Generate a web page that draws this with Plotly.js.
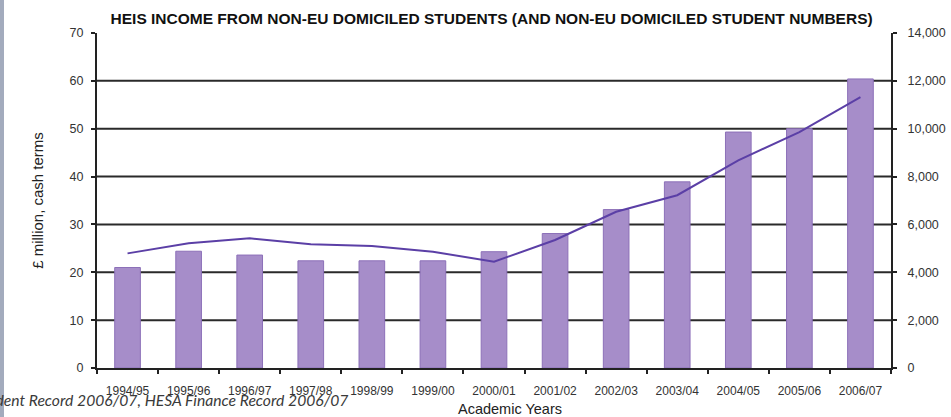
<!DOCTYPE html>
<html>
<head>
<meta charset="utf-8">
<script src="https://cdn.plot.ly/plotly-3.0.1.min.js"></script>
<style>html,body{margin:0;padding:0;background:#fff;}#chart{width:951px;height:417px;}</style>
</head>
<body>
<div id="chart"></div>
<script>
var years = ["1994/95","1995/96","1996/97","1997/98","1998/99","1999/00","2000/01","2001/02","2002/03","2003/04","2004/05","2005/06","2006/07"];
var incomeMillions = [21.0, 24.4, 23.6, 22.4, 22.4, 22.4, 24.3, 28.1, 33.1, 38.9, 49.3, 50.0, 60.4];
var studentNumbers = [4790, 5210, 5420, 5170, 5100, 4860, 4440, 5350, 6530, 7220, 8680, 9860, 11320];
var leftTicks = [0, 10, 20, 30, 40, 50, 60, 70];
var gridVals = [10, 20, 30, 40, 50, 60];
var rightTicks = [0, 2000, 4000, 6000, 8000, 10000, 12000, 14000];

var bars = {
  type: 'bar', x: years, y: incomeMillions, yaxis: 'y',
  width: 0.42,
  marker: {color: '#a68dc9', line: {color: '#8c70b8', width: 1}},
  hoverinfo: 'x+y', showlegend: false
};
var line = {
  type: 'scatter', mode: 'lines', x: years, y: studentNumbers, yaxis: 'y2',
  line: {color: '#5b3fa6', width: 2},
  hoverinfo: 'x+y', showlegend: false
};

var shapes = gridVals.map(function(v){
  return {type: 'line', xref: 'paper', x0: 0, x1: 1, yref: 'y', y0: v, y1: v,
          line: {color: '#2a2a2a', width: 2}, layer: 'below'};
});
shapes.push({type: 'rect', xref: 'paper', yref: 'paper', x0: -97/794, x1: -93/794, y0: -1, y1: 2,
             fillcolor: '#a3abbd', line: {width: 0}, layer: 'above'});

var font = 'Liberation Sans, Arial, sans-serif';
var layout = {
  width: 951, height: 417,
  margin: {l: 97, r: 60, t: 33, b: 49},
  paper_bgcolor: '#ffffff', plot_bgcolor: '#ffffff',
  font: {family: font, size: 11, color: '#333'},
  title: {text: '<b>HEIS INCOME FROM NON-EU DOMICILED STUDENTS (AND NON-EU DOMICILED STUDENT NUMBERS)</b>',
          font: {family: font, size: 15.5, color: '#111'},
          xref: 'paper', x: 0.497, xanchor: 'center', yref: 'container', y: 1 - 19/417, yanchor: 'middle'},
  xaxis: {
    type: 'category', showgrid: false, showline: true, linecolor: '#222', linewidth: 2,
    ticks: 'outside', tickson: 'boundaries', ticklen: 4, tickcolor: '#222', tickwidth: 2,
    ticklabelstandoff: 11,
    tickfont: {family: font, size: 12, color: '#333'},
    fixedrange: true
  },
  yaxis: {
    range: [0, 70], tickvals: leftTicks, showgrid: false, zeroline: false,
    showline: true, linecolor: '#222', linewidth: 2,
    ticks: 'outside', ticklen: 4, tickcolor: '#222', tickwidth: 2,
    ticklabelstandoff: 5,
    tickfont: {family: font, size: 12.5, color: '#333'},
    title: {text: '£ million, cash terms', font: {family: font, size: 15, color: '#222'}, standoff: 22},
    fixedrange: true
  },
  yaxis2: {
    overlaying: 'y', side: 'right', range: [0, 14000], tickvals: rightTicks, tickformat: ',',
    showgrid: false, zeroline: false, showline: true, linecolor: '#222', linewidth: 2,
    ticks: 'outside', ticklen: 4, tickcolor: '#222', tickwidth: 2,
    ticklabelstandoff: 8,
    tickfont: {family: font, size: 12.5, color: '#333'},
    fixedrange: true
  },
  shapes: shapes,
  annotations: [{
    text: '<i>Source: HESA Student Record 2006/07, HESA Finance Record 2006/07</i>',
    xref: 'paper', yref: 'paper', x: (350 - 97) / 794, xanchor: 'right',
    y: -(400 - 368) / 335, yanchor: 'middle', showarrow: false,
    font: {family: 'Lato, DejaVu Sans, sans-serif', size: 15.7, color: '#3a3a3a'}
  }, {
    text: 'Academic Years',
    xref: 'paper', yref: 'paper', x: (510 - 97) / 794, xanchor: 'center',
    y: -(409 - 368) / 335, yanchor: 'middle', showarrow: false,
    font: {family: font, size: 14.5, color: '#222'}
  }]
};

Plotly.newPlot('chart', [bars, line], layout, {displayModeBar: false, staticPlot: true});
</script>
</body>
</html>
